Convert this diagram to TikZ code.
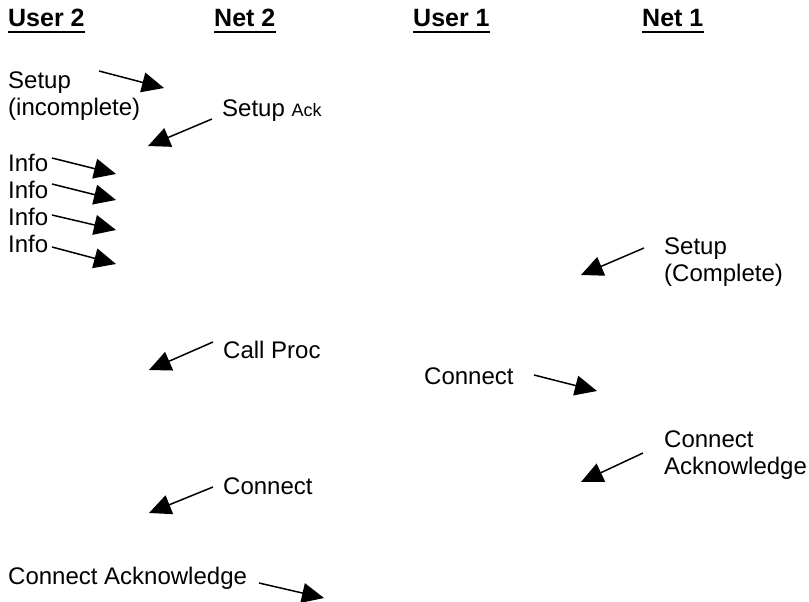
\documentclass[tikz,border=0pt]{standalone}
\usepackage{fontspec}
\setmainfont{Liberation Sans}
\usepackage{tikz}
\usetikzlibrary{arrows.meta}

\begin{document}
\begin{tikzpicture}
[
	x=1pt, y=-1pt,
	label/.style = {anchor=base west, inner sep=0pt, align=left, font=\fontsize{24}{27}\selectfont},
	head/.style = {anchor=base west, inner sep=0pt, font=\fontsize{25}{27}\selectfont\bfseries},
	msg/.style = {line width=1.5pt, -{Triangle[length=22pt,width=20pt]}},
	uline/.style = {line width=2pt},
]
\useasboundingbox (0,0) rectangle (809,602);

% column heads
\node[head] (user2) at (8,27) {User 2};
\node[head] (net2) at (214,27) {Net 2};
\node[head] (user1) at (413,27) {User 1};
\node[head] (net1) at (642,27) {Net 1};
\foreach \h in {user2,net2,user1,net1}
\draw[uline] ([yshift=-5pt]\h.base west) -- ([yshift=-5pt]\h.base east);

% user 2 side (base = last line)
\node[label] (setup) at (8,115) {Setup\\(incomplete)};
\coordinate (setupA) at (99,71);
\coordinate (setupB) at (164,88);
\draw[msg] (setupA) -- (setupB);

\node[label] (setupack) at (222,116) {Setup {\fontsize{18}{20}\selectfont Ack}};
\coordinate (setupackA) at (212,119);
\coordinate (setupackB) at (148,146);
\draw[msg] (setupackA) -- (setupackB);

\foreach \i/\ya/\yb in {1/158/174, 2/184/200, 3/215/230, 4/247/264}
{
\node[label] (info\i) at (8,{144+27*\i}) {Info};
\coordinate (info\i A) at (52,\ya);
\coordinate (info\i B) at (116,\yb);
\draw[msg] (info\i A) -- (info\i B);
}

% user 1 side
\node[label] (setupc) at (664,281) {Setup\\(Complete)};
\coordinate (setupcA) at (644,248);
\coordinate (setupcB) at (581,275);
\draw[msg] (setupcA) -- (setupcB);

\node[label] (callproc) at (223,358) {Call Proc};
\coordinate (callprocA) at (213,342);
\coordinate (callprocB) at (149,370);
\draw[msg] (callprocA) -- (callprocB);

\node[label] (conn1) at (424,384) {Connect};
\coordinate (conn1A) at (534,375);
\coordinate (conn1B) at (597,391);
\draw[msg] (conn1A) -- (conn1B);

\node[label] (connack1) at (664,474) {Connect\\Acknowledge};
\coordinate (connack1A) at (643,453);
\coordinate (connack1B) at (581,482);
\draw[msg] (connack1A) -- (connack1B);

\node[label] (conn2) at (223,494) {Connect};
\coordinate (conn2A) at (213,487);
\coordinate (conn2B) at (149,513);
\draw[msg] (conn2A) -- (conn2B);

\node[label] (connack2) at (8,584) {Connect Acknowledge};
\coordinate (connack2A) at (259,583);
\coordinate (connack2B) at (324,598);
\draw[msg] (connack2A) -- (connack2B);
\end{tikzpicture}
\end{document}
